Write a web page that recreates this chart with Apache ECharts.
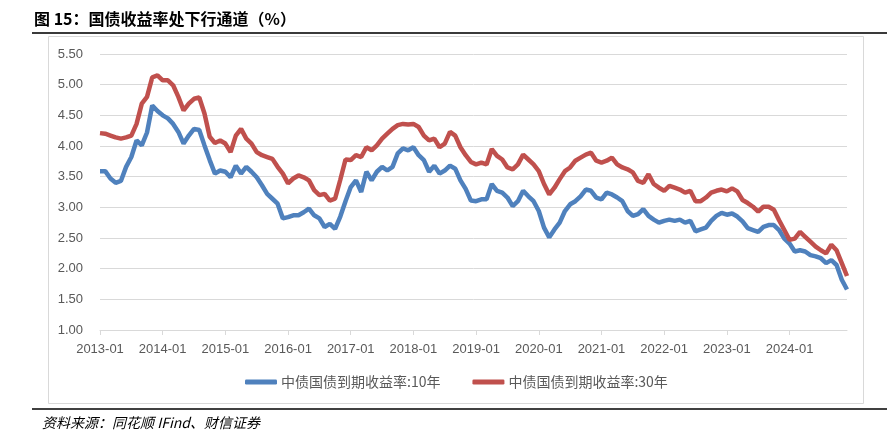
<!DOCTYPE html>
<html>
<head>
<meta charset="utf-8">
<script src="https://cdn.jsdelivr.net/npm/echarts@6/dist/echarts.min.js"></script>
<style>
html,body{margin:0;padding:0;background:#fff;}
#main{width:887px;height:437px;}
</style>
</head>
<body>
<div id="main"></div>
<script>
// Monthly categories 2013-01 .. 2024-12
var startYear = 2013, endYear = 2024;
var categories = [];
for (var y = startYear; y <= endYear; y++) {
  for (var mo = 1; mo <= 12; mo++) {
    categories.push(y + '-' + (mo < 10 ? '0' + mo : mo));
  }
}

var seriesNames = ['中债国债到期收益率:10年', '中债国债到期收益率:30年'];

var yield10 = [
  3.59,3.59,3.47,3.40,3.43,3.66,3.82,4.09,4.01,4.22,4.66,4.57,
  4.50,4.45,4.36,4.23,4.04,4.17,4.28,4.26,4.01,3.77,3.55,3.60,
  3.58,3.49,3.68,3.55,3.66,3.58,3.49,3.36,3.22,3.14,3.06,2.82,
  2.84,2.87,2.87,2.92,2.98,2.87,2.82,2.68,2.73,2.65,2.85,3.10,
  3.33,3.44,3.25,3.58,3.44,3.58,3.66,3.60,3.66,3.88,3.96,3.93,
  3.98,3.85,3.77,3.58,3.68,3.55,3.60,3.68,3.63,3.44,3.30,3.11,
  3.10,3.13,3.13,3.38,3.27,3.24,3.16,3.02,3.10,3.27,3.18,3.10,
  2.94,2.67,2.51,2.64,2.75,2.94,3.05,3.10,3.18,3.29,3.27,3.16,
  3.13,3.24,3.21,3.16,3.10,2.94,2.86,2.89,2.97,2.86,2.80,2.75,
  2.78,2.80,2.78,2.80,2.75,2.78,2.61,2.64,2.67,2.78,2.86,2.91,
  2.88,2.90,2.85,2.77,2.66,2.63,2.60,2.68,2.71,2.71,2.63,2.49,
  2.41,2.28,2.30,2.28,2.22,2.20,2.17,2.09,2.14,2.06,1.82,1.66
];

var yield30 = [
  4.21,4.20,4.17,4.14,4.12,4.14,4.17,4.36,4.69,4.80,5.12,5.15,
  5.07,5.07,4.99,4.80,4.58,4.69,4.77,4.79,4.53,4.15,4.05,4.09,
  4.04,3.90,4.17,4.28,4.12,4.04,3.90,3.85,3.82,3.79,3.66,3.55,
  3.39,3.47,3.52,3.49,3.44,3.28,3.20,3.22,3.11,3.14,3.45,3.78,
  3.77,3.85,3.82,3.98,3.93,4.01,4.12,4.20,4.28,4.34,4.36,4.35,
  4.36,4.31,4.17,4.09,4.12,3.98,4.04,4.23,4.17,3.98,3.85,3.74,
  3.70,3.73,3.70,3.95,3.84,3.78,3.65,3.62,3.70,3.86,3.78,3.70,
  3.59,3.38,3.21,3.32,3.46,3.59,3.65,3.76,3.81,3.86,3.89,3.76,
  3.73,3.76,3.81,3.70,3.65,3.62,3.57,3.43,3.40,3.54,3.38,3.32,
  3.27,3.35,3.32,3.29,3.24,3.27,3.10,3.10,3.16,3.24,3.27,3.29,
  3.26,3.31,3.26,3.12,3.07,3.01,2.93,3.01,3.01,2.96,2.79,2.63,
  2.47,2.49,2.60,2.52,2.44,2.36,2.30,2.25,2.39,2.30,2.09,1.88
];

var yMin = 1.0, yMax = 5.5, yStep = 0.5;

var chart = echarts.init(document.getElementById('main'), null, {renderer: 'canvas'});
var option = {
  backgroundColor: '#ffffff',
  animation: false,
  grid: {left: 100, right: 40, top: 54, bottom: 107, containLabel: false},
  legend: {
    left: 245, top: 375, padding: 0,
    itemWidth: 32, itemHeight: 5, itemGap: 32,
    icon: 'roundRect',
    textStyle: {color: '#595959', fontSize: 14, fontFamily: 'Noto Sans CJK SC', padding: [0, 0, 0, -1]},
    data: seriesNames
  },
  xAxis: {
    type: 'category',
    data: categories,
    boundaryGap: false,
    axisLine: {lineStyle: {color: '#D9D9D9', width: 1}},
    axisTick: {show: true, interval: 11, length: 5, lineStyle: {color: '#D9D9D9'}},
    axisLabel: {interval: 11, color: '#595959', fontSize: 13, margin: 13, fontFamily: 'Liberation Sans'},
    splitLine: {show: false}
  },
  yAxis: {
    type: 'value',
    min: yMin, max: yMax, interval: yStep,
    axisLine: {show: false},
    axisTick: {show: false},
    axisLabel: {color: '#595959', fontSize: 13, margin: 17, fontFamily: 'Liberation Sans',
      formatter: function (v) { return v.toFixed(2); }},
    splitLine: {lineStyle: {color: '#D9D9D9', width: 1}}
  },
  series: [
    {name: seriesNames[0], type: 'line', data: yield10, showSymbol: false, symbol: 'none',
     lineStyle: {color: '#4F81BD', width: 4.5}, itemStyle: {color: '#4F81BD'}},
    {name: seriesNames[1], type: 'line', data: yield30, showSymbol: false, symbol: 'none',
     lineStyle: {color: '#C0504D', width: 4.5}, itemStyle: {color: '#C0504D'}}
  ],
  graphic: [
    {type: 'text', left: 34, top: 11,
     style: {text: '图 15：国债收益率处下行通道（%）', fill: '#000', font: 'bold 16px "Noto Sans CJK SC"'}},
    {type: 'line', shape: {x1: 32, y1: 33, x2: 887, y2: 33}, style: {stroke: '#3a3a3a', lineWidth: 2}},
    {type: 'rect', shape: {x: 48.5, y: 36.5, width: 815, height: 367}, style: {stroke: '#D9D9D9', fill: 'none', lineWidth: 1}, z: -1},
    {type: 'line', shape: {x1: 32, y1: 409, x2: 887, y2: 409}, style: {stroke: '#000', lineWidth: 1.5}},
    {type: 'text', left: 42, top: 416,
     style: {text: '资料来源：同花顺 IFind、财信证券', fill: '#000', font: 'italic 14px "Noto Sans CJK SC"'}}
  ]
};
chart.setOption(option);
</script>
</body>
</html>
